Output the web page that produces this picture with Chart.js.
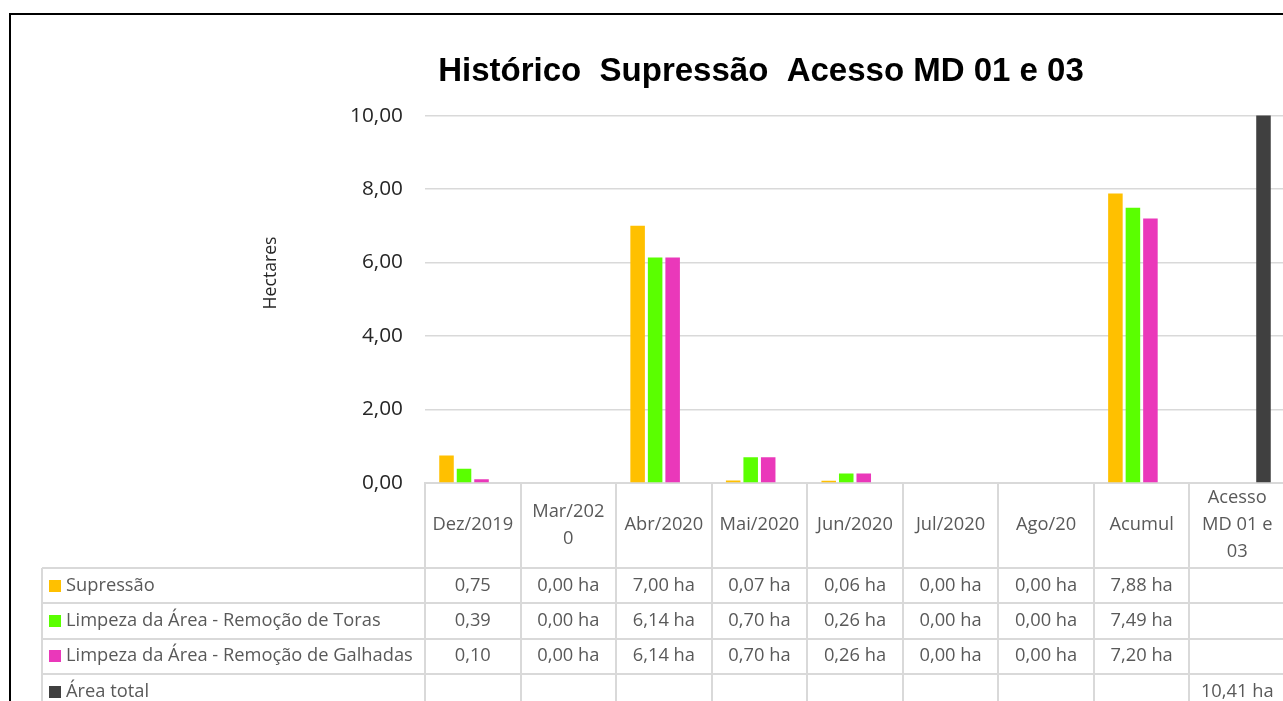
<!DOCTYPE html>
<html><head><meta charset="utf-8">
<script src="https://cdn.jsdelivr.net/npm/chart.js@4/dist/chart.umd.min.js"></script>
<style>
html,body{margin:0;padding:0;overflow:hidden;background:#fff;width:1283px;height:701px;}
#wrap{position:absolute;left:0;top:0;width:1300px;height:701px;}
#frame{position:absolute;left:9px;top:13px;width:1600px;height:800px;border-left:2px solid #000;border-top:2px solid #000;pointer-events:none;}
</style></head><body>
<div id="wrap"><canvas id="c" width="1300" height="701"></canvas></div>
<div id="frame"></div>
<script>
// ---- data ----
const categories = ["Dez/2019","Mar/2020","Abr/2020","Mai/2020","Jun/2020","Jul/2020","Ago/20","Acumul","Acesso MD 01 e 03"];
const headerLabels = [["Dez/2019"],["Mar/202","0"],["Abr/2020"],["Mai/2020"],["Jun/2020"],["Jul/2020"],["Ago/20"],["Acumul"],["Acesso","MD 01 e","03"]];
const seriesNames = ["Supressão","Limpeza da Área - Remoção de Toras","Limpeza da Área - Remoção de Galhadas","Área total"];
const supressao = [0.75, 0.00, 7.00, 0.07, 0.06, 0.00, 0.00, 7.88, null];
const remocaoToras = [0.39, 0.00, 6.14, 0.70, 0.26, 0.00, 0.00, 7.49, null];
const remocaoGalhadas = [0.10, 0.00, 6.14, 0.70, 0.26, 0.00, 0.00, 7.20, null];
const areaTotal = [null, null, null, null, null, null, null, null, 10.41];
const valueSuffix = ["", " ha", " ha", " ha", " ha", " ha", " ha", " ha", " ha"];
const yTicks = [0, 2, 4, 6, 8, 10];
const titleText = "Histórico  Supressão  Acesso MD 01 e 03";
const yAxisTitle = "Hectares";

const colors = ["#FFC000", "#5AFF00", "#EA38BA", "#404040"];
const allSeries = [supressao, remocaoToras, remocaoGalhadas, areaTotal];

function fmt(v){ return v.toFixed(2).replace('.', ','); }

const TEXT_FONT = "'Open Sans', 'Noto Sans', sans-serif";

const tablePlugin = {
  id: 'dataTable',
  afterDraw(chart){
    const ctx = chart.ctx;
    const area = chart.chartArea;
    const xs = chart.scales.x;
    const n = categories.length;
    const catW = (area.right - area.left) / n;
    const top = area.bottom;
    const headerBottom = top + 85;
    const rowH = 35.3;
    const labelLeft = 42;
    const H = chart.height;
    ctx.save();
    ctx.strokeStyle = '#d9d9d9';
    ctx.lineWidth = 2;
    ctx.beginPath();
    for (let i = 0; i <= n; i++){
      const bx = Math.round(area.left + i*catW);
      ctx.moveTo(bx, top); ctx.lineTo(bx, H);
    }
    ctx.moveTo(labelLeft, headerBottom); ctx.lineTo(labelLeft, H);
    for (let k = 0; k < seriesNames.length; k++){
      const yy = Math.round(headerBottom + k*rowH);
      ctx.moveTo(labelLeft, yy); ctx.lineTo(area.right, yy);
    }
    ctx.stroke();
    ctx.font = "18.3px " + TEXT_FONT;
    ctx.textBaseline = 'middle';
    for (let k = 0; k < seriesNames.length; k++){
      const cy = headerBottom + (k+0.5)*rowH;
      ctx.fillStyle = colors[k];
      ctx.fillRect(49, Math.round(cy-6), 12, 12);
      ctx.fillStyle = '#595959';
      ctx.textAlign = 'left';
      ctx.fillText(seriesNames[k], 66, cy);
      ctx.textAlign = 'center';
      const arr = allSeries[k];
      for (let i = 0; i < n; i++){
        if (arr[i] === null || arr[i] === undefined) continue;
        ctx.fillText(fmt(arr[i]) + valueSuffix[i], xs.getPixelForValue(i), cy);
      }
    }
    // y axis title
    ctx.translate(271, 273);
    ctx.rotate(-Math.PI/2);
    ctx.textAlign = 'center';
    ctx.fillStyle = '#262626';
    ctx.font = "17.6px " + TEXT_FONT;
    ctx.fillText(yAxisTitle, 0, 0);
    ctx.restore();
  }
};

new Chart(document.getElementById('c').getContext('2d'), {
  type: 'bar',
  data: {
    labels: headerLabels,
    datasets: allSeries.map((d, k) => ({
      label: seriesNames[k],
      data: d,
      backgroundColor: colors[k],
      borderWidth: 0
    }))
  },
  options: {
    responsive: false,
    animation: false,
    layout: { padding: { left: 237, right: 15, top: 0, bottom: 0 } },
    datasets: { bar: { categoryPercentage: 0.733, barPercentage: 0.83 } },
    plugins: {
      legend: { display: false },
      tooltip: { enabled: false },
      title: {
        display: true,
        text: titleText,
        color: '#000',
        font: { family: "'Liberation Sans', Arial, sans-serif", size: 33, weight: 'bold', lineHeight: 1.2 },
        padding: { top: 52, bottom: 24 }
      }
    },
    scales: {
      x: {
        grid: { display: false, drawTicks: false },
        border: { display: true, color: '#d9d9d9', width: 2 },
        ticks: {
          font: { family: TEXT_FONT, size: 18.3, lineHeight: 1.475 },
          color: '#595959',
          padding: 15,
          maxRotation: 0,
          autoSkip: false,
          crossAlign: 'center'
        },
        afterFit(s){ s.height = 218; }
      },
      y: {
        min: 0, max: 10,
        afterBuildTicks(s){ s.ticks = yTicks.map(v => ({ value: v })); },
        ticks: {
          callback: v => fmt(v),
          font: { family: TEXT_FONT, size: 20.8 },
          color: '#262626',
          padding: 22
        },
        grid: { color: '#d9d9d9', lineWidth: 1.5, drawTicks: false },
        border: { display: false },
        afterFit(s){ s.width = 188; }
      }
    }
  },
  plugins: [tablePlugin]
});
</script>
</body></html>
